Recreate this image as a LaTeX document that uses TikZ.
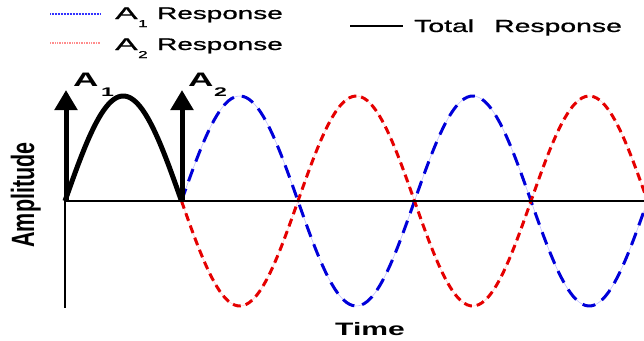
\documentclass[tikz,border=0pt]{standalone}
\usepackage{fontspec}
\setmainfont{Liberation Sans}
\newfontfamily\legfont[FakeBold=0.8]{Liberation Sans}
\usetikzlibrary{arrows.meta}
\tikzset{
  bl/.style={inner sep=0pt, anchor=base west},
  axisline/.style={line width=2.6pt, black},
  bluewave/.style={line width=3pt, color=blue!85!black, dash pattern=on 13pt off 8pt},
  redwave/.style={line width=3pt, color=red!90!black, dash pattern=on 8pt off 5pt},
  blueunder/.style={line width=0.6pt, color=blue!25},
  redunder/.style={line width=0.6pt, color=red!20},
  hump/.style={line width=5pt, black},
  spike/.style={line width=5pt, black, -{Triangle[length=20pt,width=22pt]}},
  legblue/.style={line width=1.6pt, color=blue!80, dash pattern=on 1pt off 0.5pt},
  legred/.style={line width=1.3pt, color=red!45, dash pattern=on 1pt off 0.7pt},
  legtotal/.style={line width=1.4pt, black},
}
\newcommand{\legtxt}[1]{\scalebox{1.66}[1]{\legfont\fontsize{16.8}{17}\selectfont #1}}
\newcommand{\legA}{\scalebox{2.0}[1]{\legfont\fontsize{16.8}{17}\selectfont A}}
\newcommand{\legsub}[1]{\scalebox{1.7}[1]{\legfont\fontsize{10}{10}\selectfont #1}}
\newcommand{\impA}{\scalebox{1.8}[1]{\fontsize{19.5}{20}\selectfont\bfseries A}}
\newcommand{\impsub}[1]{\scalebox{1.85}[1]{\fontsize{12.5}{13}\selectfont\bfseries #1}}
\begin{document}
\begin{tikzpicture}[x=1pt,y=-1pt]
\useasboundingbox (0,0) rectangle (644,340);
\coordinate (o) at (65,201);
\coordinate (xend) at (644,201);
\coordinate (ybot) at (65,308);
% waves
\begin{scope}
\clip (0,0) rectangle (644,340);
\draw[blueunder] plot[domain=181.5:650, samples=160, smooth] (\x, {201-105*sin(1.545064*(\x-181.5))});
\draw[redunder] plot[domain=181.5:650, samples=160, smooth] (\x, {201+105*sin(1.545064*(\x-181.5))});
\draw[bluewave] plot[domain=181.5:650, samples=160, smooth] (\x, {201-105*sin(1.545064*(\x-181.5))});
\draw[redwave] plot[domain=181.5:650, samples=160, smooth] (\x, {201+105*sin(1.545064*(\x-181.5))});
\end{scope}
% axes
\draw[axisline] (o) -- (xend);
\draw[axisline] (o) -- (ybot);
% total response hump
\draw[hump] plot[domain=65:181.5, samples=60, smooth] (\x, {201-105*sin(1.545064*(\x-65))});
% impulse arrows
\coordinate (a1b) at (66,201);
\coordinate (a1t) at (66,90);
\coordinate (a2b) at (182,201);
\coordinate (a2t) at (182,90);
\draw[spike] (a1b) -- (a1t);
\draw[spike] (a2b) -- (a2t);
% impulse labels
\node[bl] (A1) at (73,86.5) {\impA};
\node[bl] (A1s) at (101,96.5) {\impsub{1}};
\node[bl] (A2) at (188,86.5) {\impA};
\node[bl] (A2s) at (214,96.5) {\impsub{2}};
% axis labels
\node[rotate=90, anchor=base, inner sep=0pt] (amp) at (34,195) {\scalebox{1}[1.5]{\fontsize{21.5}{22}\selectfont\bfseries Amplitude}};
\node[anchor=base, inner sep=0pt] (time) at (370,335) {\scalebox{1.67}[1]{\fontsize{18}{18}\selectfont\bfseries Time}};
% legend
\coordinate (l1a) at (50,14);
\coordinate (l1b) at (100,14);
\coordinate (l2a) at (50,43);
\coordinate (l2b) at (100,43);
\coordinate (l3a) at (350,26);
\coordinate (l3b) at (403,26);
\draw[legblue] (l1a) -- (l1b);
\draw[legred] (l2a) -- (l2b);
\draw[legtotal] (l3a) -- (l3b);
\node[bl] (L1A) at (115,19) {\legA};
\node[bl] (L1s) at (138,27) {\legsub{1}};
\node[bl] (L1R) at (157,19) {\legtxt{Response}};
\node[bl] (L2A) at (115,50) {\legA};
\node[bl] (L2s) at (138,58) {\legsub{2}};
\node[bl] (L2R) at (157,50) {\legtxt{Response}};
\node[bl] (L3T) at (414,32) {\scalebox{1.62}[1]{\legfont\fontsize{17.5}{18}\selectfont Total}};
\node[bl] (L3R) at (494,32) {\scalebox{1.62}[1]{\legfont\fontsize{17.5}{18}\selectfont Response}};
\end{tikzpicture}
\end{document}
